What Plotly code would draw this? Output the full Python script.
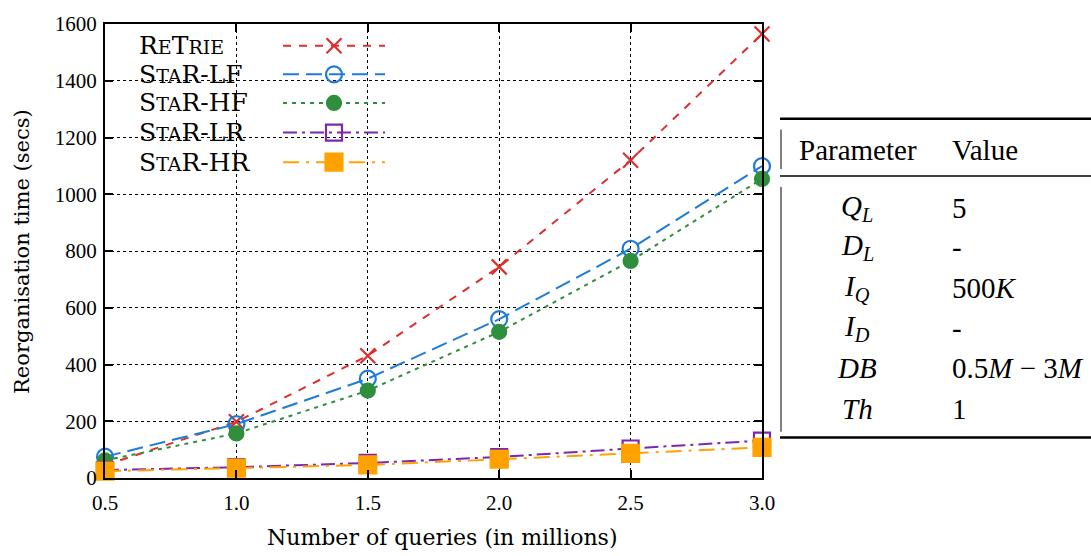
import plotly.graph_objects as go

queries = [0.5, 1.0, 1.5, 2.0, 2.5, 3.0]
retrie = [45, 198, 431, 744, 1120, 1565]
star_lf = [75, 190, 350, 560, 808, 1099]
star_hf = [62, 157, 308, 515, 765, 1054]
star_lr = [28, 38, 53, 74, 104, 132]
star_hr = [24, 35, 46, 66, 87, 108]

SC = "<span style='font-size:19px'>{}</span>"
series_names = [
    "R" + SC.format("E") + "T" + SC.format("RIE"),
    "S" + SC.format("TA") + "R-LF",
    "S" + SC.format("TA") + "R-HF",
    "S" + SC.format("TA") + "R-LR",
    "S" + SC.format("TA") + "R-HR",
]
series_vals = [retrie, star_lf, star_hf, star_lr, star_hr]
colors = ["#dc2f2f", "#1f7bd8", "#2f8f3c", "#7b28b0", "#ffa200"]
dashes = ["8px,8px", "16px,7px", "4px,5px", "14px,5px,3px,5px", "16px,7px,3px,7px"]
symbols = ["x-thin-open", "circle-open", "circle", "square-open", "square"]
msizes = [15, 16, 14, 16, 17]

param_names = ["<i>Q</i><sub><i>L</i></sub>", "<i>D</i><sub><i>L</i></sub>",
               "<i>I</i><sub><i>Q</i></sub>", "<i>I</i><sub><i>D</i></sub>",
               "<i>DB</i>", "<i>Th</i>"]
param_values = ["5", "-", "500<i>K</i>", "-", "0.5<i>M</i> − 3<i>M</i>", "1"]

FONT = "Liberation Serif"
TFONT = "DejaVu Serif"
W, H = 1091, 556
L, R, T, B = 105, 762, 18, 478

def px(x):
    return (x - L) / (R - L)

def py(y):
    return (B - y) / (B - T)

fig = go.Figure()
for name, vals, c, d, s, ms in zip(series_names, series_vals, colors, dashes, symbols, msizes):
    fig.add_trace(go.Scatter(
        x=queries, y=vals, mode="lines+markers", showlegend=False,
        line=dict(color=c, width=2, dash=d),
        marker=dict(symbol=s, size=ms, color=c, line=dict(color=c, width=2.2)),
        cliponaxis=False))

# legend samples on an overlay axis
leg_rows = [40, 69, 98, 128, 158]
for name, c, d, s, ms, yy in zip(series_names, colors, dashes, symbols, msizes, leg_rows):
    fig.add_trace(go.Scatter(
        x=[px(283), px(385)], y=[py(yy), py(yy)], mode="lines", showlegend=False,
        line=dict(color=c, width=2, dash=d), xaxis="x2", yaxis="y2", hoverinfo="skip"))
    fig.add_trace(go.Scatter(
        x=[px(334)], y=[py(yy)], mode="markers", showlegend=False,
        marker=dict(symbol=s, size=ms, color=c, line=dict(color=c, width=2.2)),
        xaxis="x2", yaxis="y2", hoverinfo="skip"))

annotations = []
for name, yy in zip(series_names, leg_rows):
    annotations.append(dict(x=px(137), y=py(yy), xref="paper", yref="paper", text=name,
                            showarrow=False, xanchor="left", yanchor="middle",
                            font=dict(family=TFONT, size=25, color="black")))

# axis titles
annotations.append(dict(x=px(442), y=py(538), xref="paper", yref="paper",
                        text="Number of queries (in millions)", showarrow=False,
                        xanchor="center", yanchor="middle",
                        font=dict(family=TFONT, size=22, color="black")))
annotations.append(dict(x=px(22), y=py(249), xref="paper", yref="paper",
                        text="Reorganisation time (secs)", showarrow=False, textangle=-90,
                        xanchor="center", yanchor="middle",
                        font=dict(family=TFONT, size=21, color="black")))

shapes = [dict(type="rect", xref="paper", yref="paper", x0=px(106), x1=px(394), y0=py(176), y1=py(19),
               fillcolor="white", line=dict(width=0), layer="between")]

# parameter table
shapes.append(dict(type="line", xref="paper", yref="paper", x0=px(780), x1=px(1091), y0=py(114), y1=py(114), line=dict(color="black", width=2.5)))
shapes.append(dict(type="line", xref="paper", yref="paper", x0=px(780), x1=px(1091), y0=py(172), y1=py(172), line=dict(color="black", width=1.5)))
shapes.append(dict(type="line", xref="paper", yref="paper", x0=px(780), x1=px(1091), y0=py(437), y1=py(437), line=dict(color="black", width=2.5)))
shapes.append(dict(type="line", xref="paper", yref="paper", x0=px(781), x1=px(781), y0=py(125), y1=py(165), line=dict(color="black", width=1)))
shapes.append(dict(type="line", xref="paper", yref="paper", x0=px(781), x1=px(781), y0=py(183), y1=py(431), line=dict(color="black", width=1)))

TS = 29
annotations.append(dict(x=px(797), y=py(146), xref="paper", yref="paper", text="Parameter", showarrow=False,
                        xanchor="left", yanchor="middle", font=dict(family=FONT, size=TS, color="black")))
annotations.append(dict(x=px(950), y=py(146), xref="paper", yref="paper", text="Value", showarrow=False,
                        xanchor="left", yanchor="middle", font=dict(family=FONT, size=TS, color="black")))
row_y = [204, 244, 285, 326, 367, 408]
for n, v, yy in zip(param_names, param_values, row_y):
    annotations.append(dict(x=px(857), y=py(yy), xref="paper", yref="paper", text=n, showarrow=False,
                            xanchor="center", yanchor="middle", font=dict(family=FONT, size=TS, color="black")))
    annotations.append(dict(x=px(950), y=py(yy), xref="paper", yref="paper", text=v, showarrow=False,
                            xanchor="left", yanchor="middle", font=dict(family=FONT, size=TS, color="black")))

axis_common = dict(showline=True, linecolor="black", linewidth=2, mirror="ticks", ticks="inside",
                   ticklen=8, tickwidth=1.5, tickcolor="black", showgrid=True, gridcolor="black",
                   griddash="dot", gridwidth=1, zeroline=False,
                   tickfont=dict(family=FONT, size=21, color="black"))

fig.update_layout(
    width=W, height=H, margin=dict(l=L, r=W - R, t=T, b=H - B),
    plot_bgcolor="white", paper_bgcolor="white",
    xaxis=dict(range=[0.5, 3.0], tickvals=queries, ticktext=["0.5", "1.0", "1.5", "2.0", "2.5", "3.0"],
               ticklabelstandoff=5, **axis_common),
    yaxis=dict(range=[0, 1600], dtick=200, ticklabelstandoff=2, **axis_common),
    xaxis2=dict(overlaying="x", range=[0, 1], visible=False),
    yaxis2=dict(overlaying="y", range=[0, 1], visible=False),
    shapes=shapes, annotations=annotations,
)

fig.write_html("out.html")
